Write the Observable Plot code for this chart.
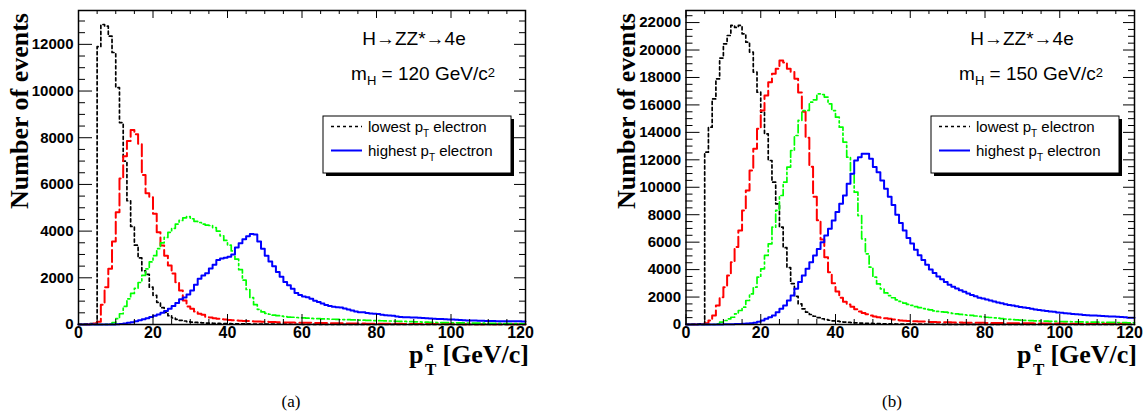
<!DOCTYPE html>
<html>
<head>
<meta charset="utf-8">
<script src="https://cdn.jsdelivr.net/npm/d3@7"></script>
<script src="https://cdn.jsdelivr.net/npm/@observablehq/plot@0.6"></script>
<style>
html,body{margin:0;padding:0;background:#fff;}
#wrap{position:relative;width:1146px;height:412px;overflow:hidden;background:#fff;}
#wrap > svg{position:absolute;top:0;}
</style>
</head>
<body>
<div id="wrap"></div>
<script>
// ---------- data: events per 1 GeV/c bin, bins 0..119 GeV/c ----------
// panel (a): m_H = 120 GeV/c^2
const lowest120 = [
  20, 30, 30, 40, 50, 11900, 12850, 12780, 12350, 11650,
  10150, 8650, 7000, 5300, 4200, 3400, 2850, 2300, 2150, 1600,
  1250, 950, 720, 520, 380, 280, 220, 180, 150, 120,
  100, 90, 80, 70, 62, 55, 50, 45, 40, 38,
  35, 32, 30, 28, 26, 24, 22, 20, 19, 18,
  17, 16, 15, 14, 13, 12, 12, 11, 10, 10,
  9, 9, 8, 8, 7, 7, 6, 6, 6, 5,
  5, 5, 5, 4, 4, 4, 4, 3, 3, 3,
  3, 3, 3, 2, 2, 2, 2, 2, 2, 2,
  2, 2, 1, 1, 1, 1, 1, 1, 1, 1,
  1, 1, 1, 1, 1, 1, 1, 1, 1, 1,
  1, 1, 1, 0, 0, 0, 0, 0, 0, 0];
const second120 = [
  0, 0, 0, 10, 40, 120, 850, 1600, 2390, 3550,
  4810, 6250, 7210, 7860, 8330, 8150, 7740, 6400, 5620, 5450,
  4740, 3950, 3380, 2950, 2530, 2180, 1810, 1460, 1030, 770,
  670, 560, 460, 420, 330, 300, 270, 250, 230, 210,
  190, 180, 170, 160, 150, 145, 140, 130, 125, 120,
  115, 110, 105, 100, 95, 90, 88, 85, 80, 78,
  75, 72, 70, 68, 65, 62, 60, 58, 55, 52,
  50, 48, 46, 44, 42, 40, 38, 36, 35, 34,
  33, 32, 31, 30, 29, 28, 27, 26, 25, 24,
  23, 22, 21, 20, 20, 19, 19, 18, 18, 17,
  17, 16, 16, 15, 15, 14, 14, 13, 13, 12,
  12, 12, 11, 11, 11, 10, 10, 10, 9, 9];
const third120 = [
  0, 0, 0, 0, 0, 0, 0, 5, 20, 80,
  250, 460, 780, 1100, 1330, 1550, 1800, 2100, 2380, 2680,
  2950, 3250, 3500, 3730, 3950, 4120, 4300, 4460, 4570, 4620,
  4530, 4420, 4370, 4300, 4260, 4240, 4150, 4000, 3800, 3600,
  3400, 3150, 2800, 2350, 1900, 1500, 1150, 850, 650, 540,
  480, 440, 400, 380, 360, 340, 320, 310, 300, 290,
  280, 270, 260, 255, 250, 245, 240, 235, 225, 220,
  215, 210, 205, 200, 195, 190, 185, 180, 175, 170,
  165, 160, 155, 150, 145, 140, 135, 130, 125, 120,
  115, 110, 105, 100, 95, 90, 85, 82, 80, 78,
  75, 72, 70, 68, 65, 62, 60, 58, 55, 52,
  50, 48, 46, 44, 42, 40, 38, 36, 34, 32];
const highest120 = [
  0, 0, 0, 0, 0, 0, 0, 0, 0, 5,
  10, 20, 40, 70, 100, 140, 180, 220, 270, 320,
  380, 430, 500, 580, 680, 790, 920, 1080, 1160, 1280,
  1460, 1700, 1960, 2100, 2200, 2400, 2560, 2760, 2830, 2860,
  2900, 3000, 3300, 3480, 3650, 3780, 3880, 3860, 3550, 3250,
  2950, 2700, 2500, 2250, 2050, 1820, 1680, 1530, 1350, 1260,
  1200, 1170, 1100, 1020, 960, 900, 830, 790, 760, 740,
  730, 690, 640, 600, 560, 530, 520, 490, 470, 460,
  450, 420, 400, 390, 370, 340, 320, 315, 310, 300,
  295, 290, 280, 270, 255, 245, 240, 235, 225, 215,
  215, 200, 195, 185, 175, 170, 170, 165, 160, 150,
  150, 145, 140, 140, 140, 135, 140, 140, 135, 130];

// panel (b): m_H = 150 GeV/c^2
const lowest150 = [
  20, 30, 30, 40, 50, 12560, 14380, 16440, 17900, 19410,
  20450, 21060, 21790, 21650, 21790, 21180, 20570, 19850, 18390, 16930,
  15470, 13890, 11950, 10370, 8790, 7090, 5600, 4150, 2980, 2050,
  1500, 1140, 900, 730, 600, 500, 420, 360, 310, 270,
  240, 210, 180, 160, 140, 120, 105, 95, 85, 75,
  68, 62, 56, 50, 46, 42, 38, 35, 32, 30,
  28, 26, 24, 22, 20, 19, 18, 17, 16, 15,
  14, 13, 12, 11, 10, 10, 9, 9, 8, 8,
  7, 7, 6, 6, 6, 5, 5, 5, 4, 4,
  4, 4, 3, 3, 3, 3, 3, 2, 2, 2,
  2, 2, 2, 2, 2, 2, 1, 1, 1, 1,
  1, 1, 1, 1, 1, 1, 1, 1, 1, 1];
const second150 = [
  0, 0, 0, 0, 20, 100, 290, 660, 1380, 1990,
  2720, 3570, 4540, 5640, 6850, 8310, 9760, 11220, 12800, 14260,
  15590, 16690, 17660, 18270, 18630, 19240, 19100, 18630, 18390, 17900,
  16900, 15500, 13600, 11500, 9300, 7600, 6200, 4900, 3800, 3000,
  2400, 1950, 1650, 1450, 1300, 1120, 950, 830, 740, 660,
  580, 530, 490, 450, 410, 370, 330, 300, 280, 260,
  240, 230, 220, 210, 200, 190, 180, 170, 165, 160,
  155, 150, 145, 140, 135, 130, 125, 125, 120, 120,
  115, 110, 108, 105, 102, 100, 98, 95, 92, 90,
  88, 86, 84, 82, 80, 78, 76, 74, 72, 70,
  68, 66, 64, 62, 60, 58, 57, 56, 55, 54,
  53, 52, 51, 50, 50, 49, 48, 47, 46, 45];
const third150 = [
  0, 0, 0, 0, 0, 0, 0, 0, 50, 170,
  290, 410, 530, 780, 1020, 1260, 1750, 2230, 2720, 3450,
  4060, 5030, 5880, 7090, 8310, 9400, 10370, 11470, 12680, 13770,
  14870, 15590, 15600, 16200, 16370, 16810, 16760, 16570, 16080, 15590,
  15110, 14380, 13290, 12190, 10980, 9640, 7940, 6240, 5150, 4180,
  3450, 2960, 2600, 2300, 2110, 1950, 1800, 1680, 1560, 1460,
  1400, 1300, 1230, 1160, 1100, 1060, 1000, 950, 920, 900,
  860, 810, 780, 740, 710, 680, 660, 620, 590, 560,
  530, 510, 490, 460, 430, 400, 380, 360, 340, 320,
  300, 290, 280, 270, 260, 250, 240, 235, 230, 225,
  220, 210, 205, 200, 195, 190, 185, 180, 175, 170,
  170, 165, 160, 155, 150, 145, 140, 130, 125, 120];
const highest150 = [
  0, 0, 0, 0, 0, 0, 0, 0, 0, 0,
  10, 15, 20, 30, 40, 50, 70, 90, 120, 200,
  290, 410, 530, 660, 900, 1140, 1380, 1750, 2110, 2600,
  3090, 3570, 4060, 4540, 5030, 5510, 6000, 6490, 6970, 7580,
  8190, 8790, 9400, 10250, 10980, 11950, 12190, 12440, 12450, 12070,
  11470, 11100, 10490, 9900, 9300, 8700, 8000, 7400, 6850, 6300,
  5900, 5450, 5050, 4700, 4350, 4000, 3750, 3500, 3300, 3100,
  2900, 2750, 2620, 2500, 2380, 2250, 2150, 2050, 1950, 1900,
  1820, 1750, 1680, 1600, 1550, 1480, 1430, 1390, 1330, 1280,
  1240, 1200, 1150, 1100, 1060, 1020, 980, 950, 920, 880,
  860, 820, 800, 770, 750, 720, 700, 680, 660, 650,
  640, 620, 600, 590, 580, 560, 540, 520, 500, 490];

// axis ticks
const xMajor = [0, 20, 40, 60, 80, 100, 120];
const yMajor120 = [0, 2000, 4000, 6000, 8000, 10000, 12000];
const yMajor150 = [0, 2000, 4000, 6000, 8000, 10000, 12000, 14000, 16000, 18000, 20000, 22000];
const legendLabels = ["lowest p", "highest p"];

// ---------- styles ----------
const seriesStyle = [
  {stroke: "#000000", dash: "3,3", width: 1.7},
  {stroke: "#ff0000", dash: "12,4", width: 2},
  {stroke: "#00ff00", dash: "8,3,2,3", width: 1.7},
  {stroke: "#0000ff", dash: null, width: 2}
];

function stepPoints(values) {
  const pts = values.map((v, i) => ({x: i, y: v}));
  pts.push({x: values.length, y: values[values.length - 1]});
  return pts;
}

function panel({series, yMax, yMajor, left, width, mL, mR}) {
  const H = 380, mT = 10, mB = 56;
  const fw = width - mL - mR, fh = H - mT - mB;
  const xMinor = d3.range(0, 121, 5).filter(d => !xMajor.includes(d));
  const yMinor = d3.range(0, yMax, 500).filter(d => !yMajor.includes(d));
  const lastX = xMajor[xMajor.length - 1];
  const marks = [];
  series.forEach((vals, k) => {
    const s = seriesStyle[k];
    marks.push(Plot.line(stepPoints(vals), {
      x: "x", y: "y", curve: "step-after",
      stroke: s.stroke, strokeWidth: s.width,
      strokeDasharray: s.dash || undefined
    }));
  });
  const tk = {stroke: "black", strokeWidth: 1};
  const xAxisOpts = {tickSize: 0, tickPadding: 2, label: null,
    tickFormat: d => String(d), fontSize: 16, fontWeight: "bold"};
  marks.push(
    // left / right y ticks (inside)
    Plot.tickY(yMajor, {...tk, insetRight: fw - 14}),
    Plot.tickY(yMinor, {...tk, insetRight: fw - 7}),
    Plot.tickY(yMajor, {...tk, insetLeft: fw - 11}),
    Plot.tickY(yMinor, {...tk, insetLeft: fw - 6}),
    // bottom / top x ticks (inside)
    Plot.tickX(xMajor, {...tk, insetTop: fh - 10}),
    Plot.tickX(xMinor, {...tk, insetTop: fh - 5}),
    Plot.tickX(xMajor, {...tk, insetBottom: fh - 8}),
    Plot.tickX(xMinor, {...tk, insetBottom: fh - 4}),
    Plot.frame({stroke: "black", strokeWidth: 1.5}),
    Plot.axisY({ticks: yMajor, tickSize: 0, tickPadding: 5, label: null,
      tickFormat: d => String(d), fontSize: 15, fontWeight: "bold"}),
    Plot.axisX({...xAxisOpts, ticks: xMajor.filter(d => d !== lastX)}),
    Plot.axisX({...xAxisOpts, ticks: [lastX], dx: -5})
  );
  const svg = Plot.plot({
    width, height: H,
    marginLeft: mL, marginRight: mR, marginTop: mT, marginBottom: mB,
    x: {domain: [0, 120]},
    y: {domain: [0, yMax]},
    style: {fontFamily: "'Liberation Sans', Arial, sans-serif", fontWeight: "bold",
            fontSize: "15px", color: "black", background: "transparent", overflow: "visible"},
    marks
  });
  svg.style.left = left + "px";
  return svg;
}

const wrap = document.getElementById("wrap");
wrap.appendChild(panel({series: [lowest120, second120, third120, highest120],
  yMax: 13450, yMajor: yMajor120, left: 0, width: 560, mL: 78, mR: 35}));
wrap.appendChild(panel({series: [lowest150, second150, third150, highest150],
  yMax: 22880, yMajor: yMajor150, left: 590, width: 556, mL: 95.5, mR: 12}));

// ---------- overlay texts, legends ----------
const NS = "http://www.w3.org/2000/svg";
const ov = document.createElementNS(NS, "svg");
ov.setAttribute("width", 1146); ov.setAttribute("height", 412);
ov.style.left = "0px"; ov.style.pointerEvents = "none";
wrap.appendChild(ov);
const sans = "'Liberation Sans', Arial, sans-serif";
const serif = "'Liberation Serif', 'Times New Roman', serif";
function addText(x, y, html, attrs) {
  const t = document.createElementNS(NS, "text");
  t.setAttribute("x", x); t.setAttribute("y", y);
  for (const k in attrs) t.setAttribute(k, attrs[k]);
  t.innerHTML = html;
  ov.appendChild(t); return t;
}
function addEl(tag, attrs) {
  const e = document.createElementNS(NS, tag);
  for (const k in attrs) e.setAttribute(k, attrs[k]);
  ov.appendChild(e); return e;
}

function decorate(dx, mass, ylabX, caption, capX) {
  // process labels
  addText(414 + dx, 45, "H\u2192ZZ*\u21924e", {"font-family": sans, "font-size": 19, "text-anchor": "middle"});
  addText(423 + dx, 80, `m<tspan font-size="13" dy="5">H</tspan><tspan dy="-5"> = ${mass} GeV/c</tspan><tspan font-size="13" dy="-3">2</tspan>`,
    {"font-family": sans, "font-size": 19, "text-anchor": "middle"});
  // legend box with shadow
  const bx = 323 + dx, by = 116, bw = 188, bh = 57;
  addEl("rect", {x: bx + 3, y: by + 3, width: bw, height: bh, fill: "black"});
  addEl("rect", {x: bx, y: by, width: bw, height: bh, fill: "white", stroke: "black", "stroke-width": 1});
  const rows = [{y: 132, k: 0}, {y: 156, k: 3}];
  rows.forEach((r, i) => {
    const s = seriesStyle[r.k];
    addEl("line", {x1: bx + 8, x2: bx + 39, y1: r.y - 5.5, y2: r.y - 5.5, stroke: s.stroke,
      "stroke-width": s.width, "stroke-dasharray": s.dash || "none"});
    addText(bx + 45, r.y, `${legendLabels[i]}<tspan font-size="10" dy="5">T</tspan><tspan dy="-5"> electron</tspan>`,
      {"font-family": sans, "font-size": 15});
  });
  // y label
  addText(0, 0, "Number of events", {"font-family": serif, "font-weight": "bold", "font-size": 26,
    "text-anchor": "middle", transform: `translate(${ylabX},111) rotate(-90)`});
  // x label
  const tx = {"font-family": serif, "font-weight": "bold"};
  addText(529 + dx, 363, "[GeV/c]", {...tx, "font-size": 26, "text-anchor": "end"});
  addText(409 + dx, 363, "p", {...tx, "font-size": 26});
  addText(426 + dx, 352, "e", {...tx, "font-size": 17});
  addText(425 + dx, 375, "T", {...tx, "font-size": 17});
  // caption
  addText(capX, 407, caption, {"font-family": serif, "font-size": 17, "text-anchor": "middle"});
}
decorate(0, 120, 28, "(a)", 291);
decorate(608, 150, 635, "(b)", 892);
</script>
</body>
</html>
